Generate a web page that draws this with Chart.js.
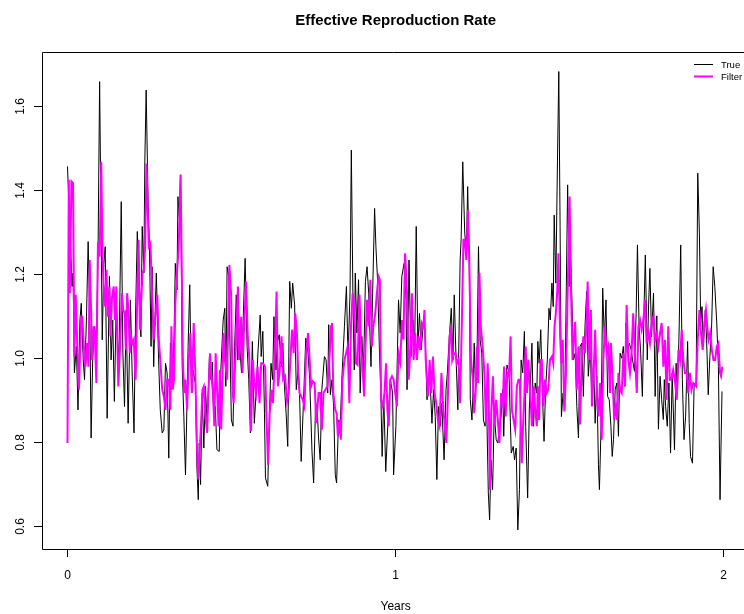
<!DOCTYPE html>
<html>
<head>
<meta charset="utf-8">
<script src="https://cdn.jsdelivr.net/npm/chart.js@4"></script>
<style>
  body { margin: 0; background: #fff; }
  canvas { display: block; }
</style>
</head>
<body>
<canvas id="rtChart" width="744" height="614"></canvas>
<script>
// --- Data (years, R value) ---
const trueYears = [
  0.000, 0.014, 0.017, 0.021, 0.027, 0.032, 0.038, 0.042, 0.048, 0.052,
  0.058, 0.063, 0.068, 0.072, 0.077, 0.083, 0.088, 0.093, 0.098, 0.106,
  0.111, 0.115, 0.121, 0.128, 0.133, 0.138, 0.143, 0.148, 0.152, 0.157,
  0.164, 0.169, 0.174, 0.179, 0.185, 0.192, 0.197, 0.203, 0.208, 0.213,
  0.219, 0.224, 0.228, 0.233, 0.236, 0.240, 0.246, 0.250, 0.255, 0.258,
  0.263, 0.267, 0.271, 0.278, 0.283, 0.289, 0.294, 0.299, 0.304, 0.309,
  0.314, 0.321, 0.325, 0.329, 0.334, 0.337, 0.341, 0.345, 0.350, 0.355,
  0.360, 0.365, 0.368, 0.373, 0.378, 0.383, 0.390, 0.395, 0.399, 0.402,
  0.406, 0.411, 0.416, 0.421, 0.426, 0.433, 0.438, 0.442, 0.446, 0.451,
  0.456, 0.463, 0.467, 0.475, 0.480, 0.483, 0.487, 0.492, 0.500, 0.505,
  0.510, 0.515, 0.519, 0.525, 0.531, 0.536, 0.542, 0.548, 0.553, 0.558,
  0.564, 0.570, 0.576, 0.581, 0.588, 0.591, 0.596, 0.601, 0.604, 0.611,
  0.616, 0.621, 0.626, 0.630, 0.636, 0.640, 0.646, 0.652, 0.657, 0.662,
  0.667, 0.672, 0.678, 0.683, 0.687, 0.693, 0.698, 0.704, 0.708, 0.713,
  0.721, 0.727, 0.734, 0.739, 0.746, 0.751, 0.757, 0.762, 0.766, 0.771,
  0.776, 0.784, 0.789, 0.794, 0.797, 0.802, 0.807, 0.812, 0.817, 0.821,
  0.827, 0.832, 0.838, 0.845, 0.851, 0.856, 0.862, 0.866, 0.871, 0.875,
  0.878, 0.883, 0.888, 0.893, 0.898, 0.903, 0.909, 0.914, 0.919, 0.926,
  0.931, 0.937, 0.941, 0.946, 0.952, 0.956, 0.960, 0.965, 0.971, 0.978,
  0.985, 0.992, 0.995, 1.002, 1.010, 1.015, 1.020, 1.027, 1.033, 1.036,
  1.042, 1.048, 1.054, 1.059, 1.064, 1.069, 1.074, 1.079, 1.086, 1.091,
  1.097, 1.102, 1.107, 1.112, 1.117, 1.122, 1.127, 1.132, 1.137, 1.142,
  1.149, 1.155, 1.159, 1.165, 1.171, 1.176, 1.180, 1.185, 1.191, 1.198,
  1.201, 1.206, 1.212, 1.217, 1.221, 1.226, 1.229, 1.234, 1.237, 1.241,
  1.245, 1.249, 1.254, 1.259, 1.264, 1.269, 1.274, 1.279, 1.284, 1.288,
  1.292, 1.297, 1.302, 1.308, 1.313, 1.318, 1.323, 1.328, 1.331, 1.335,
  1.341, 1.347, 1.354, 1.360, 1.364, 1.369, 1.374, 1.379, 1.384, 1.389,
  1.394, 1.398, 1.404, 1.409, 1.413, 1.417, 1.422, 1.427, 1.432, 1.435,
  1.439, 1.444, 1.449, 1.454, 1.459, 1.464, 1.469, 1.473, 1.478, 1.482,
  1.485, 1.490, 1.495, 1.499, 1.503, 1.507, 1.512, 1.517, 1.522, 1.526,
  1.531, 1.534, 1.539, 1.544, 1.549, 1.554, 1.559, 1.564, 1.569, 1.574,
  1.579, 1.584, 1.589, 1.595, 1.600, 1.605, 1.610, 1.615, 1.620, 1.623,
  1.628, 1.633, 1.638, 1.643, 1.648, 1.653, 1.658, 1.662, 1.666, 1.671,
  1.676, 1.681, 1.686, 1.691, 1.696, 1.700, 1.704, 1.708, 1.714, 1.720,
  1.724, 1.730, 1.735, 1.739, 1.744, 1.749, 1.754, 1.759, 1.763, 1.769,
  1.773, 1.777, 1.782, 1.788, 1.793, 1.798, 1.803, 1.808, 1.813, 1.818,
  1.821, 1.825, 1.830, 1.835, 1.840, 1.845, 1.852, 1.857, 1.861, 1.866,
  1.871, 1.876, 1.881, 1.886, 1.892, 1.897, 1.901, 1.907, 1.912, 1.918,
  1.923, 1.928, 1.932, 1.936, 1.940, 1.946, 1.950, 1.955, 1.960, 1.965,
  1.970, 1.975, 1.981, 1.986, 1.991, 1.997
];
const trueR = [
  1.456, 1.170, 1.202, 0.964, 1.027, 0.876, 1.090, 1.130, 0.995, 0.948,
  1.098, 1.277, 1.106, 0.809, 1.003, 1.075, 1.035, 1.233, 1.658, 1.043,
  1.225, 1.265, 0.856, 1.194, 0.995, 1.090, 0.896, 1.098, 1.050, 0.995,
  1.372, 1.011, 0.884, 1.114, 0.844, 1.138, 0.971, 0.821, 1.114, 1.301,
  1.130, 1.050, 1.313, 1.202, 1.471, 1.638, 1.368, 1.265, 1.027, 1.217,
  0.979, 1.100, 1.202, 0.995, 0.876, 0.821, 0.829, 0.987, 0.964, 0.761,
  1.035, 0.940, 1.050, 1.225, 1.162, 1.384, 1.336, 1.436, 0.979, 0.860,
  0.721, 0.908, 1.027, 1.174, 0.916, 0.971, 0.940, 0.737, 0.662, 0.797,
  0.698, 0.916, 0.785, 0.932, 0.837, 1.003, 0.948, 0.990, 0.856, 0.884,
  0.781, 0.777, 0.956, 1.090, 1.118, 0.932, 1.217, 1.194, 0.852, 0.837,
  1.027, 1.150, 0.995, 1.035, 0.964, 1.090, 1.237, 1.027, 0.948, 0.821,
  1.039, 0.844, 0.924, 1.011, 1.102, 1.003, 1.063, 0.868, 0.714, 0.694,
  0.860, 0.987, 0.948, 1.098, 0.971, 1.035, 1.055, 0.979, 1.035, 0.932,
  0.868, 0.789, 1.182, 1.118, 1.178, 1.126, 0.924, 0.974, 0.916, 0.753,
  0.916, 1.047, 1.011, 0.948, 0.777, 0.702, 0.892, 0.876, 0.809, 0.757,
  0.924, 1.003, 0.995, 0.916, 1.079, 0.912, 0.948, 0.884, 0.721, 0.702,
  0.852, 0.837, 0.964, 1.075, 1.170, 1.003, 1.154, 1.495, 1.138, 0.971,
  1.202, 1.059, 1.186, 0.916, 1.051, 0.964, 1.182, 1.217, 1.154, 0.979,
  1.154, 1.356, 1.265, 1.186, 1.011, 0.916, 0.765, 0.908, 0.729, 0.852,
  0.948, 0.916, 0.721, 0.837, 1.138, 1.059, 1.194, 1.225, 1.138, 0.924,
  1.233, 1.003, 1.090, 1.011, 1.313, 1.027, 1.106, 1.019, 1.083, 1.060,
  0.900, 0.964, 0.932, 0.844, 0.924, 0.860, 0.710, 0.884, 0.837, 0.892,
  0.757, 0.924, 0.964, 1.051, 1.118, 0.995, 1.150, 1.011, 0.876, 1.233,
  1.281, 1.467, 1.297, 1.257, 1.408, 1.217, 0.900, 0.852, 0.916, 1.035,
  0.916, 0.971, 1.265, 1.043, 1.011, 0.852, 0.837, 0.884, 0.678, 0.614,
  0.757, 0.686, 0.868, 0.805, 0.797, 0.837, 0.860, 0.924, 0.813, 0.916,
  0.983, 0.964, 0.773, 0.789, 0.757, 0.785, 0.590, 0.686, 0.995, 0.964,
  1.063, 0.837, 0.666, 0.876, 0.950, 1.035, 0.837, 0.940, 0.916, 1.039,
  0.987, 1.067, 0.916, 0.801, 0.932, 0.995, 1.118, 1.090, 1.178, 1.122,
  1.340, 1.178, 1.471, 1.682, 1.313, 0.860, 0.916, 0.876, 1.170, 1.412,
  1.170, 1.281, 1.138, 0.995, 1.011, 0.884, 0.809, 1.027, 1.035, 0.908,
  1.075, 1.158, 0.956, 1.027, 0.892, 0.995, 0.844, 0.956, 0.745, 0.686,
  0.837, 1.166, 1.043, 1.138, 0.908, 0.900, 0.837, 0.765, 0.805, 0.924,
  0.940, 0.813, 1.011, 0.999, 1.027, 0.932, 1.083, 1.011, 1.035, 1.019,
  0.995, 0.968, 1.106, 1.269, 1.075, 1.010, 0.908, 1.114, 1.245, 0.995,
  1.126, 1.213, 1.050, 1.154, 0.908, 1.100, 0.830, 0.956, 0.900, 0.853,
  0.948, 0.884, 0.837, 0.940, 0.773, 0.964, 0.781, 0.987, 0.915, 1.059,
  1.269, 0.948, 0.805, 0.861, 1.039, 0.844, 0.765, 0.749, 0.940, 0.932,
  1.440, 1.297, 1.083, 1.122, 1.027, 1.114, 1.043, 0.912, 1.003, 1.067,
  1.217, 1.170, 1.083, 0.979, 0.662, 0.920
];

const filterYears = [
  0.000, 0.004, 0.007, 0.012, 0.017, 0.021, 0.025, 0.030, 0.035, 0.038,
  0.042, 0.045, 0.050, 0.055, 0.060, 0.064, 0.068, 0.072, 0.075, 0.080,
  0.084, 0.088, 0.093, 0.098, 0.103, 0.107, 0.111, 0.115, 0.119, 0.123,
  0.128, 0.131, 0.136, 0.141, 0.145, 0.149, 0.155, 0.160, 0.166, 0.170,
  0.174, 0.178, 0.182, 0.186, 0.190, 0.194, 0.198, 0.202, 0.208, 0.213,
  0.217, 0.221, 0.225, 0.229, 0.233, 0.237, 0.241, 0.245, 0.248, 0.253,
  0.258, 0.263, 0.268, 0.274, 0.278, 0.283, 0.289, 0.294, 0.299, 0.304,
  0.309, 0.314, 0.317, 0.321, 0.325, 0.329, 0.334, 0.339, 0.345, 0.348,
  0.352, 0.356, 0.360, 0.365, 0.370, 0.375, 0.380, 0.385, 0.390, 0.395,
  0.399, 0.404, 0.408, 0.412, 0.416, 0.421, 0.426, 0.430, 0.435, 0.439,
  0.444, 0.448, 0.452, 0.456, 0.461, 0.465, 0.469, 0.476, 0.480, 0.487,
  0.494, 0.499, 0.504, 0.507, 0.512, 0.520, 0.524, 0.530, 0.534, 0.538,
  0.545, 0.550, 0.555, 0.560, 0.565, 0.570, 0.575, 0.580, 0.586, 0.591,
  0.596, 0.603, 0.607, 0.612, 0.617, 0.623, 0.627, 0.632, 0.638, 0.642,
  0.647, 0.653, 0.658, 0.664, 0.670, 0.675, 0.680, 0.685, 0.690, 0.695,
  0.700, 0.704, 0.708, 0.713, 0.718, 0.723, 0.728, 0.734, 0.739, 0.743,
  0.748, 0.754, 0.759, 0.766, 0.771, 0.776, 0.781, 0.787, 0.793, 0.799,
  0.804, 0.807, 0.811, 0.817, 0.821, 0.825, 0.830, 0.834, 0.839, 0.845,
  0.850, 0.855, 0.860, 0.865, 0.870, 0.875, 0.880, 0.885, 0.891, 0.896,
  0.900, 0.905, 0.909, 0.914, 0.919, 0.924, 0.929, 0.933, 0.939, 0.944,
  0.949, 0.953, 0.957, 0.962, 0.967, 0.972, 0.976, 0.980, 0.985, 0.990,
  0.995, 1.000, 1.005, 1.010, 1.015, 1.021, 1.025, 1.030, 1.036, 1.041,
  1.046, 1.051, 1.056, 1.061, 1.066, 1.071, 1.076, 1.081, 1.086, 1.089,
  1.093, 1.100, 1.105, 1.110, 1.115, 1.120, 1.125, 1.130, 1.135, 1.141,
  1.145, 1.151, 1.156, 1.161, 1.166, 1.170, 1.174, 1.179, 1.184, 1.188,
  1.193, 1.198, 1.203, 1.208, 1.212, 1.217, 1.222, 1.226, 1.231, 1.236,
  1.241, 1.245, 1.249, 1.253, 1.257, 1.261, 1.266, 1.272, 1.277, 1.282,
  1.285, 1.289, 1.293, 1.298, 1.303, 1.308, 1.313, 1.318, 1.323, 1.328,
  1.332, 1.337, 1.342, 1.347, 1.352, 1.356, 1.361, 1.366, 1.371, 1.376,
  1.380, 1.386, 1.390, 1.394, 1.398, 1.402, 1.406, 1.412, 1.417, 1.422,
  1.427, 1.432, 1.435, 1.439, 1.443, 1.447, 1.452, 1.457, 1.462, 1.467,
  1.472, 1.478, 1.482, 1.486, 1.490, 1.494, 1.498, 1.503, 1.507, 1.511,
  1.516, 1.521, 1.526, 1.532, 1.536, 1.541, 1.544, 1.549, 1.554, 1.559,
  1.564, 1.569, 1.574, 1.579, 1.584, 1.587, 1.592, 1.597, 1.600, 1.605,
  1.610, 1.615, 1.620, 1.625, 1.630, 1.635, 1.640, 1.645, 1.650, 1.655,
  1.658, 1.663, 1.668, 1.673, 1.677, 1.681, 1.686, 1.691, 1.696, 1.701,
  1.706, 1.711, 1.716, 1.721, 1.726, 1.731, 1.737, 1.742, 1.747, 1.752,
  1.757, 1.762, 1.767, 1.772, 1.777, 1.782, 1.788, 1.793, 1.798, 1.803,
  1.808, 1.813, 1.818, 1.823, 1.828, 1.833, 1.838, 1.843, 1.848, 1.853,
  1.859, 1.864, 1.869, 1.874, 1.879, 1.884, 1.889, 1.894, 1.899, 1.904,
  1.909, 1.918, 1.923, 1.928, 1.933, 1.938, 1.943, 1.948, 1.952, 1.956,
  1.961, 1.966, 1.971, 1.976, 1.981, 1.986, 1.991, 1.994, 1.998
];
const filterR = [
  0.797, 1.424, 1.154, 1.420, 1.416, 1.003, 1.150, 1.027, 0.924, 1.003,
  1.098, 1.098, 1.027, 0.979, 1.035, 0.979, 1.233, 1.114, 0.995, 1.075,
  1.035, 0.940, 1.277, 1.241, 1.467, 1.233, 1.162, 1.122, 1.210, 1.098,
  1.170, 1.051, 1.146, 1.170, 1.090, 1.170, 0.932, 1.019, 1.154, 1.114,
  1.106, 1.019, 1.154, 1.114, 1.011, 1.051, 1.035, 1.043, 0.948, 1.154,
  1.281, 1.067, 1.138, 1.202, 1.210, 1.265, 1.463, 1.352, 1.265, 1.273,
  1.154, 1.043, 1.090, 1.150, 1.051, 0.995, 0.924, 0.908, 0.876, 0.948,
  0.948, 0.876, 1.075, 0.924, 0.948, 1.130, 1.202, 1.257, 1.436, 1.257,
  0.995, 0.916, 0.948, 0.876, 0.995, 1.059, 0.916, 1.083, 0.964, 0.789,
  0.710, 0.789, 0.852, 0.924, 0.932, 0.860, 0.821, 0.916, 1.011, 0.956,
  0.916, 0.837, 1.011, 0.932, 0.837, 0.971, 0.829, 1.059, 0.995, 0.948,
  1.221, 1.154, 0.916, 0.892, 0.995, 1.170, 0.995, 1.098, 0.964, 1.059,
  1.182, 1.051, 0.995, 0.825, 0.995, 0.940, 0.916, 0.979, 0.892, 0.987,
  0.987, 0.979, 0.860, 0.745, 0.868, 0.924, 0.892, 0.995, 1.158, 0.932,
  0.964, 1.051, 0.948, 0.956, 0.896, 0.916, 0.995, 1.067, 1.011, 1.106,
  1.059, 0.964, 0.916, 0.908, 0.900, 0.884, 1.011, 1.059, 0.995, 0.932,
  0.944, 0.940, 0.844, 0.916, 0.916, 0.829, 0.916, 0.924, 0.932, 0.995,
  1.075, 1.083, 0.916, 0.876, 0.868, 0.813, 0.852, 0.805, 0.948, 0.995,
  1.011, 1.027, 0.892, 1.075, 1.154, 1.122, 0.987, 0.983, 1.150, 1.019,
  0.979, 0.908, 1.019, 1.138, 1.075, 1.186, 1.027, 1.075, 1.106, 1.154,
  1.194, 1.186, 0.900, 0.884, 0.916, 0.987, 0.876, 0.837, 0.948, 0.956,
  0.948, 0.916, 0.884, 1.011, 0.990, 1.090, 1.043, 1.249, 1.154, 0.948,
  1.019, 1.154, 0.995, 1.059, 0.995, 1.051, 1.019, 1.083, 1.075, 1.114,
  0.995, 0.908, 0.995, 0.916, 1.003, 0.916, 0.892, 0.852, 0.837, 0.964,
  0.900, 0.837, 0.797, 0.916, 1.051, 1.075, 0.995, 1.011, 1.011, 0.987,
  0.995, 0.892, 1.075, 1.281, 1.281, 1.233, 1.352, 1.233, 0.995, 0.956,
  0.868, 0.916, 1.027, 0.940, 1.202, 1.075, 1.035, 0.964, 0.844, 0.987,
  0.916, 0.686, 0.868, 0.956, 0.837, 0.900, 0.852, 0.797, 0.916, 0.884,
  0.979, 0.860, 0.964, 0.956, 1.051, 0.876, 0.852, 0.829, 0.932, 0.948,
  0.948, 0.749, 0.837, 0.908, 1.027, 0.916, 0.995, 0.916, 0.837, 0.932,
  0.876, 0.837, 0.932, 0.852, 0.995, 0.995, 0.884, 0.948, 0.916, 0.924,
  0.995, 1.003, 0.987, 1.075, 1.106, 1.154, 1.249, 1.051, 0.987, 1.043,
  0.872, 0.964, 1.154, 1.384, 1.170, 0.995, 1.035, 1.086, 0.924, 1.027,
  0.841, 0.995, 1.051, 1.011, 1.090, 1.182, 0.995, 1.114, 0.884, 0.956,
  1.067, 0.916, 0.860, 0.940, 0.805, 0.995, 1.075, 1.011, 1.027, 0.916,
  1.035, 0.956, 0.852, 0.884, 0.852, 0.964, 0.924, 0.916, 1.011, 0.932,
  1.126, 0.995, 0.964, 1.011, 1.106, 1.011, 0.916, 1.075, 1.090, 1.067,
  1.090, 1.138, 1.035, 1.059, 1.035, 1.083, 1.099, 1.043, 1.059, 1.027,
  1.059, 1.083, 0.979, 1.043, 0.900, 1.075, 0.948, 0.948, 0.971, 0.948,
  0.900, 1.019, 0.995, 1.067, 0.995, 0.964, 0.964, 0.916, 0.964, 0.924,
  0.940, 0.932, 1.043, 1.114, 1.059, 1.019, 1.083, 1.114, 1.075, 1.043,
  1.059, 1.019, 0.995, 0.995, 1.027, 1.035, 0.964, 0.956, 0.979
];

const xTicks = [0, 1, 2];
const yTicks = [0.6, 0.8, 1.0, 1.2, 1.4, 1.6];
const seriesNames = ['True', 'Filter'];
const seriesColors = ['#000000', '#ff00ff'];
const titleText = 'Effective Reproduction Rate';
const xTitle = 'Years';

const toPoints = (xs, ys) => xs.map((x, i) => ({ x: x, y: ys[i] }));

// --- R-style frame, ticks, labels, title and legend ---
const rFrame = {
    id: 'rFrame',
    afterDraw(chart) {
        const { ctx, chartArea: a, scales: { x, y } } = chart;
        ctx.save();
        ctx.strokeStyle = '#000';
        ctx.fillStyle = '#000';
        ctx.lineWidth = 1;

        // box (right side sits off the canvas)
        ctx.beginPath();
        ctx.moveTo(a.right + 2, a.top + 0.5);
        ctx.lineTo(a.left + 0.5, a.top + 0.5);
        ctx.lineTo(a.left + 0.5, a.bottom + 0.5);
        ctx.lineTo(a.right + 2, a.bottom + 0.5);
        ctx.stroke();

        // x axis
        ctx.font = '12px "Liberation Sans", Arial, sans-serif';
        ctx.textAlign = 'center';
        ctx.textBaseline = 'alphabetic';
        xTicks.forEach(v => {
            const px = Math.round(x.getPixelForValue(v)) + 0.5;
            ctx.beginPath();
            ctx.moveTo(px, a.bottom + 0.5);
            ctx.lineTo(px, a.bottom + 8);
            ctx.stroke();
            ctx.fillText(String(v), px, 579);
        });

        // y axis, labels turned like R's las = 0
        yTicks.forEach(v => {
            const py = Math.round(y.getPixelForValue(v)) + 0.5;
            ctx.beginPath();
            ctx.moveTo(a.left + 0.5, py);
            ctx.lineTo(a.left - 8, py);
            ctx.stroke();
            ctx.save();
            ctx.translate(23.5, py);
            ctx.rotate(-Math.PI / 2);
            ctx.fillText(v.toFixed(1), 0, 0);
            ctx.restore();
        });

        const midX = (a.left + x.getPixelForValue(2.08)) / 2;

        ctx.fillText(xTitle, midX, 610);

        ctx.font = 'bold 15px "Liberation Sans", Arial, sans-serif';
        ctx.fillText(titleText, midX, 25);

        // legend, no box
        ctx.font = '9.5px "Liberation Sans", Arial, sans-serif';
        ctx.textAlign = 'left';
        ctx.textBaseline = 'middle';
        seriesNames.forEach((name, i) => {
            const ly = 64.5 + i * 12;
            ctx.strokeStyle = seriesColors[i];
            ctx.lineWidth = i === 0 ? 1 : 2;
            ctx.beginPath();
            ctx.moveTo(694, ly);
            ctx.lineTo(713, ly);
            ctx.stroke();
            ctx.fillStyle = '#000';
            ctx.fillText(name, 721, ly + 1);
        });
        ctx.restore();
    }
};

const chart = new Chart(document.getElementById('rtChart'), {
    type: 'line',
    data: {
        datasets: [
            {
                label: seriesNames[1],
                data: toPoints(filterYears, filterR),
                borderColor: seriesColors[1],
                borderWidth: 2,
                pointRadius: 0,
                tension: 0,
                fill: false
            },
            {
                label: seriesNames[0],
                data: toPoints(trueYears, trueR),
                borderColor: seriesColors[0],
                borderWidth: 1,
                pointRadius: 0,
                tension: 0,
                fill: false
            }
        ]
    },
    options: {
        responsive: false,
        animation: false,
        layout: { padding: { left: 42, top: 52, right: 0, bottom: 65 } },
        plugins: {
            legend: { display: false },
            tooltip: { enabled: false }
        },
        scales: {
            x: { type: 'linear', display: false, min: -0.0778, max: 2.0641 },
            y: { type: 'linear', display: false, min: 0.5445, max: 1.7286 }
        }
    },
    plugins: [rFrame]
});
</script>
</body>
</html>
